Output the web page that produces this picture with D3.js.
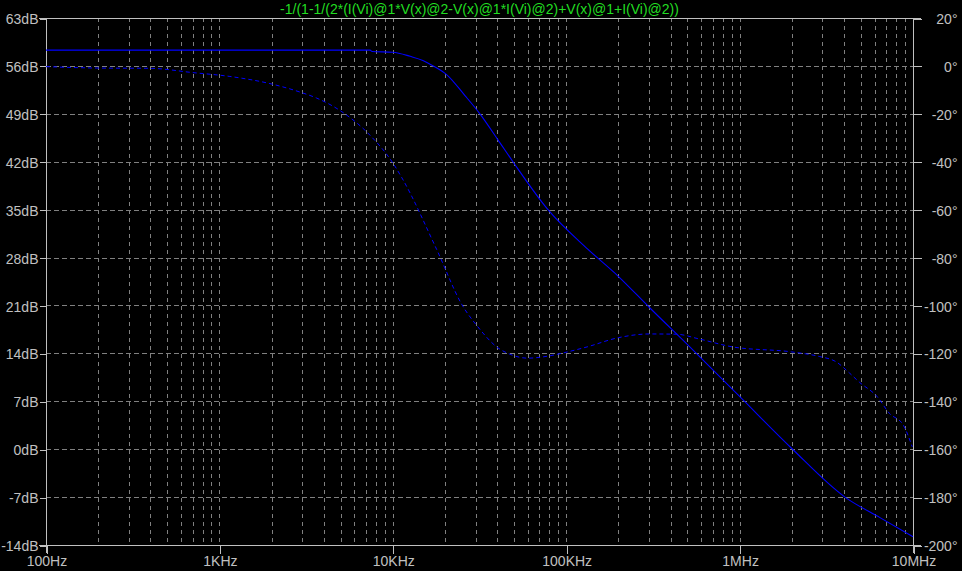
<!DOCTYPE html>
<html>
<head>
<meta charset="utf-8">
<script src="https://cdn.jsdelivr.net/npm/d3@7"></script>
<style>
html,body{margin:0;padding:0;background:#000;}
svg{display:block;}
text{font-family:"Liberation Sans",Arial,sans-serif;font-size:14px;}
</style>
</head>
<body>
<svg id="chart" width="962" height="571"></svg>
<script>
// ---- data ----
const titleText = "-1/(1-1/(2*(I(Vi)@1*V(x)@2-V(x)@1*I(Vi)@2)+V(x)@1+I(Vi)@2))";
const freqTicks = [100, 1e3, 1e4, 1e5, 1e6, 1e7];
const freqTickLabels = ["100Hz", "1KHz", "10KHz", "100KHz", "1MHz", "10MHz"];
const dbTicks = [63, 56, 49, 42, 35, 28, 21, 14, 7, 0, -7, -14];
const degTicks = [20, 0, -20, -40, -60, -80, -100, -120, -140, -160, -180, -200];

// magnitude (solid), dB
const magFreq = [100, 7400, 7600, 10000, 12600, 14900, 17100, 20500, 26000, 31800, 40400, 49300, 78500, 133600, 199000, 302000, 518000, 1.0e6, 2.0e6, 4.05e6, 6.45e6, 1.0e7];
const magDb   = [58.3, 58.3, 58.1, 58.0, 57.4, 56.8, 56.0, 54.7, 51.7, 49.0, 45.2, 42.0, 35.0, 29.2, 25.3, 20.7, 14.9, 7.7, 0.1, -7.0, -10.0, -12.8];

// phase (dashed), degrees
const phFreq = [100, 205, 398, 704, 1150, 1960, 2910, 3630, 5100, 7400, 10000, 11300, 17900, 25100, 31000, 40400, 47200, 59700, 80600, 96200, 132000, 196000, 302000, 433000, 585000, 911000, 2.0e6, 2.88e6, 3.6e6, 4.3e6, 4.9e6, 6.2e6, 7.3e6, 8.8e6, 9.9e6];
const phDeg  = [-0.3, -0.9, -1.0, -2.8, -4.4, -7.4, -10.9, -13.4, -19.2, -29, -40.5, -46.8, -76.6, -99.8, -109, -117.7, -120.3, -122, -121, -119.8, -117.3, -113.6, -111.9, -112, -114, -117.3, -119.4, -121.3, -123.5, -128.2, -132, -138, -145, -150, -159];

// ---- layout ----
const L = 46, R = 913, T = 18, B = 545;
const frameCol = "#c0c0c0", gridCol = "#808080", textCol = "#c0c0c0";
const traceCol = "#0000ff", titleCol = "#22dd22";

const svg = d3.select("#chart");
svg.append("rect").attr("width", 962).attr("height", 571).attr("fill", "#000");

const x = d3.scaleLog().domain([100, 1e7]).range([L, R]);
const yDb = d3.scaleLinear().domain([-14, 63]).range([B, T]);
const yDeg = d3.scaleLinear().domain([-200, 20]).range([B, T]);

// grid: vertical (1..9 per decade), dashed
const vgrid = [];
for (let d = 100; d < 1e7; d *= 10) for (let k = 1; k <= 9; k++) vgrid.push(d * k);
const g = svg.append("g").attr("shape-rendering", "crispEdges");
g.selectAll("line.vg").data(vgrid.filter(v => v > 100 && v < 1e7)).enter().append("line")
  .attr("x1", d => Math.round(x(d)) + 0.5).attr("x2", d => Math.round(x(d)) + 0.5)
  .attr("y1", T).attr("y2", B)
  .attr("stroke", gridCol).attr("stroke-dasharray", "4,4");
g.selectAll("line.hg").data(dbTicks.filter(v => v > -14 && v < 63)).enter().append("line")
  .attr("x1", L).attr("x2", R)
  .attr("y1", d => Math.round(yDb(d)) + 0.5).attr("y2", d => Math.round(yDb(d)) + 0.5)
  .attr("stroke", gridCol).attr("stroke-dasharray", "5,3");

// frame
const f = svg.append("g").attr("shape-rendering", "crispEdges").attr("stroke", frameCol);
f.append("line").attr("x1", L - 7).attr("x2", R + 8).attr("y1", T + 0.5).attr("y2", T + 0.5);
f.append("line").attr("x1", L - 7).attr("x2", R + 8).attr("y1", B + 0.5).attr("y2", B + 0.5);
f.append("line").attr("x1", L + 0.5).attr("x2", L + 0.5).attr("y1", T).attr("y2", B + 8);
f.append("line").attr("x1", R + 0.5).attr("x2", R + 0.5).attr("y1", T).attr("y2", B + 8);

// left axis (dB)
const leftAxis = d3.axisLeft(yDb).tickValues(dbTicks).tickSize(7).tickFormat(d => d + "dB");
const la = svg.append("g").attr("transform", `translate(${L + 0.5},0.5)`).call(leftAxis);
// right axis (degrees)
const rightAxis = d3.axisRight(yDeg).tickValues(degTicks).tickSize(8).tickFormat(d => d + "°");
const ra = svg.append("g").attr("transform", `translate(${R + 0.5},0.5)`).call(rightAxis);
// bottom axis
const bottomAxis = d3.axisBottom(x).tickValues(freqTicks).tickSize(8).tickFormat((d, i) => freqTickLabels[i]);
const ba = svg.append("g").attr("transform", `translate(0.5,${B + 0.5})`).call(bottomAxis);

[la, ra, ba].forEach(a => {
  a.select(".domain").remove();
  a.selectAll(".tick line").attr("stroke", frameCol).attr("shape-rendering", "crispEdges");
  a.selectAll(".tick text").attr("fill", textCol).style("font-size", "14px")
    .style("font-family", '"Liberation Sans", Arial, sans-serif');
});
la.selectAll(".tick text").attr("x", -8).attr("dy", "0.36em");
ra.selectAll(".tick text").attr("x", 44).attr("text-anchor", "end").attr("dy", "0.36em");
ba.selectAll(".tick text").attr("y", 10).attr("dy", "0.78em");

// traces
const magData = magFreq.map((fr, i) => [fr, magDb[i]]);
const phData = phFreq.map((fr, i) => [fr, phDeg[i]]);
const magLine = d3.line().x(d => x(d[0])).y(d => yDb(d[1])).curve(d3.curveMonotoneX);
const phLine = d3.line().x(d => x(d[0])).y(d => yDeg(d[1])).curve(d3.curveMonotoneX);

svg.append("path").datum(phData).attr("d", phLine)
  .attr("fill", "none").attr("stroke", traceCol).attr("stroke-width", 1)
  .attr("stroke-dasharray", "4,3");
svg.append("path").datum(magData).attr("d", magLine)
  .attr("fill", "none").attr("stroke", traceCol).attr("stroke-width", 1.1);

// title
svg.append("text").attr("x", (L + R) / 2).attr("y", 14).attr("text-anchor", "middle")
  .attr("fill", titleCol).style("font-size", "14px").text(titleText);
</script>
</body>
</html>
